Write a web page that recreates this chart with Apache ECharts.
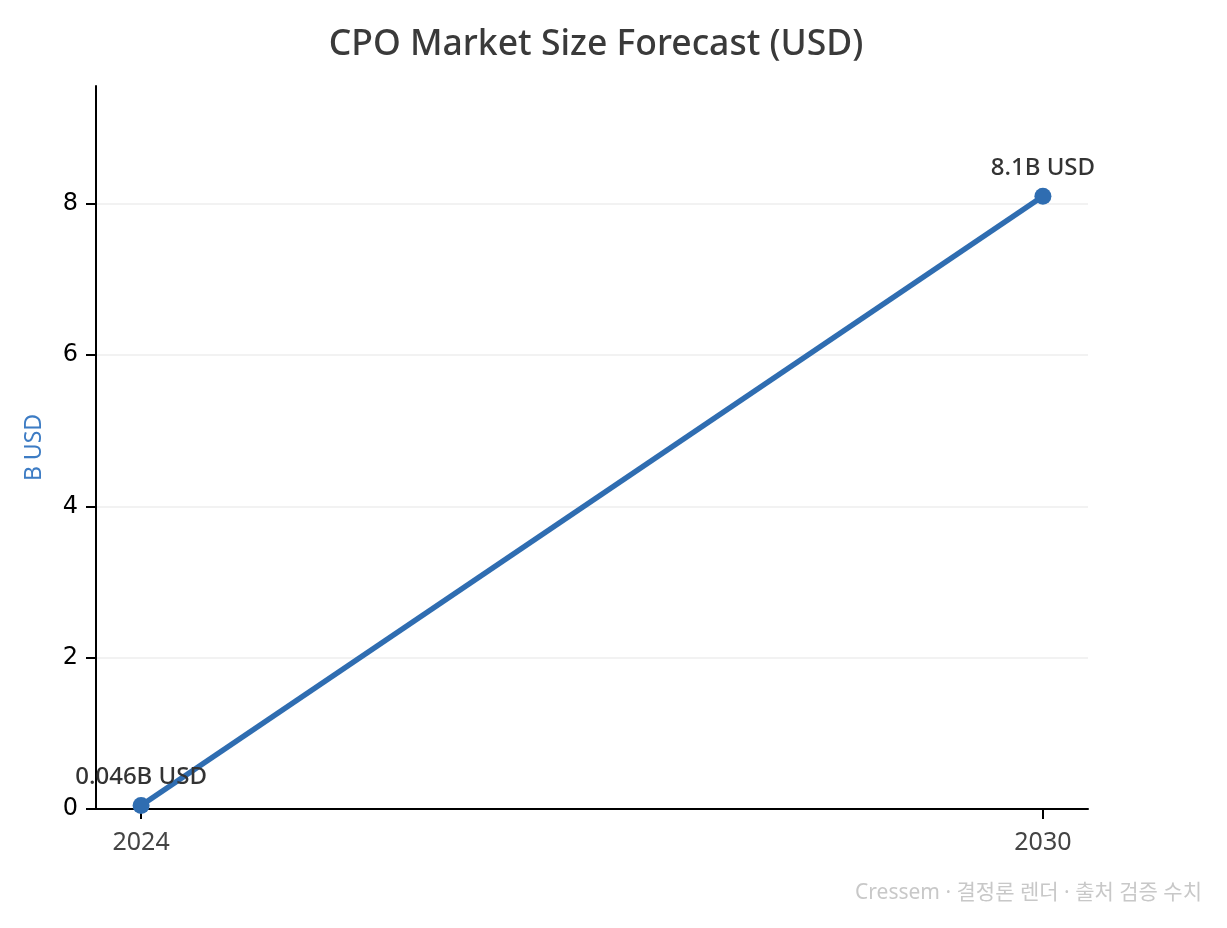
<!DOCTYPE html>
<html><head><meta charset="utf-8">
<script src="https://cdn.jsdelivr.net/npm/echarts@6/dist/echarts.min.js"></script>
<style>html,body{margin:0;padding:0;background:#fff}#c{width:1227px;height:928px}</style>
</head><body><div id="c"></div>
<script>
const years = [2024, 2030];
const values = [0.046, 8.1];
const valueLabels = ['0.046B USD', '8.1B USD'];
const yTicks = [0, 2, 4, 6, 8];

const FONT = '"Noto Sans", "Noto Sans CJK KR", sans-serif';
const chart = echarts.init(document.getElementById('c'));
chart.setOption({
  animation: false,
  backgroundColor: '#fff',
  title: {
    text: 'CPO Market Size Forecast (USD)',
    left: 591, top: 22, textAlign: 'center',
    textStyle: { fontFamily: FONT, fontSize: 35.5, fontWeight: 500, color: '#3a3a3a' }
  },
  graphic: [{
    type: 'text', right: 25, top: 883,
    style: { text: 'Cressem · 결정론 렌더 · 출처 검증 수치', fontFamily: FONT, fontSize: 21, fill: '#c8c8c8' }
  }],
  grid: { left: 96, right: 139, top: 86, bottom: 119, containLabel: false },
  xAxis: {
    type: 'value', min: 2023.7, max: 2030.3,
    axisLine: { show: true, lineStyle: { color: '#000', width: 2 } },
    axisTick: { show: true, length: 10, customValues: years, lineStyle: { color: '#000', width: 2 } },
    axisLabel: { customValues: years, fontFamily: FONT, fontSize: 25, color: '#444', margin: 21, formatter: v => String(v) },
    splitLine: { show: false }
  },
  yAxis: {
    type: 'value', min: 0, max: 9.558,
    name: 'B USD', nameLocation: 'middle', nameGap: 50,
    nameTextStyle: { color: '#3d7cc4', fontFamily: FONT, fontSize: 23 },
    axisLine: { show: true, lineStyle: { color: '#000', width: 2 } },
    axisTick: { show: true, length: 10, customValues: yTicks, lineStyle: { color: '#000', width: 2 } },
    axisLabel: { customValues: yTicks, fontFamily: 'DejaVu Sans', fontSize: 24, color: '#000', margin: 18 },
    splitLine: { show: true, lineStyle: { color: '#f2f2f2', width: 2 } }
  },
  series: [{
    type: 'line',
    data: years.map((y, i) => [y, values[i]]),
    symbol: 'circle', symbolSize: 17,
    lineStyle: { color: '#2f6db1', width: 5.5 },
    itemStyle: { color: '#2f6db1' },
    label: {
      show: true, position: 'top', distance: 8,
      formatter: p => valueLabels[p.dataIndex],
      fontFamily: FONT, fontSize: 24, fontWeight: 500, color: '#333'
    },
    clip: false
  }]
});
</script></body></html>
